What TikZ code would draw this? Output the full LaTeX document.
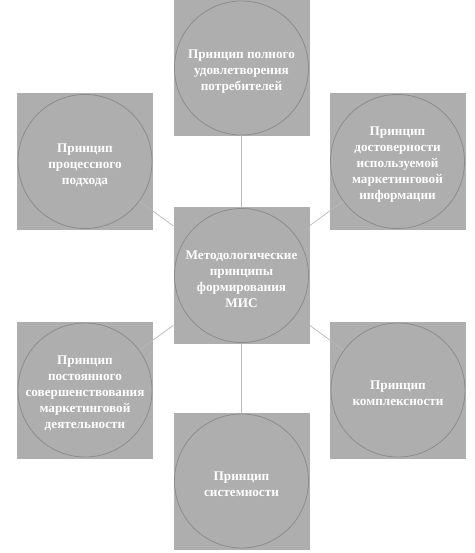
\documentclass[tikz,border=0pt]{standalone}
\usepackage{fontspec}
\setmainfont{Liberation Serif}
\definecolor{boxgray}{RGB}{174,174,174}
\definecolor{ringgray}{RGB}{140,140,140}
\definecolor{linkgray}{RGB}{185,185,185}
\tikzset{
  sqbox/.style={rectangle, fill=boxgray, minimum width=136pt, minimum height=137pt, inner sep=0pt},
  ring/.style={circle, draw=ringgray, line width=0.8pt, minimum size=134pt, inner sep=0pt},
  ringtext/.style={align=center, text=white, inner sep=0pt, yshift=-3.5pt,
    font=\bfseries\fontsize{13.2}{16}\selectfont},
  link/.style={draw=linkgray, line width=0.7pt}
}
\begin{document}
\begin{tikzpicture}[x=1pt,y=-1pt]
\useasboundingbox (0,0) rectangle (474,553);
% boxes
\node[sqbox] (tb) at (241.5,68) {};
\node[sqbox] (lb) at (85,161.5) {};
\node[sqbox] (rb) at (397.5,161.5) {};
\node[sqbox] (cb) at (241.5,275.5) {};
\node[sqbox] (blb) at (85,390) {};
\node[sqbox] (brb) at (398,390) {};
\node[sqbox] (bb) at (241.5,481) {};
% circles
\node[ring] (tc) at (tb) {};
\node[ring] (lc) at (lb) {};
\node[ring] (rc) at (rb) {};
\node[ring] (cc) at (cb) {};
\node[ring] (blc) at (blb) {};
\node[ring] (brc) at (brb) {};
\node[ring] (bc) at (bb) {};
% texts
\node[ringtext] (tt) at (tc) {Принцип полного\\удовлетворения\\потребителей};
\node[ringtext] (lt) at (lc) {Принцип\\процессного\\подхода};
\node[ringtext] (rt) at (rc) {Принцип\\достоверности\\используемой\\маркетинговой\\информации};
\node[ringtext] (ct) at (cc) {Методологические\\принципы\\формирования\\МИС};
\node[ringtext] (blt) at (blc) {Принцип\\постоянного\\совершенствования\\маркетинговой\\деятельности};
\node[ringtext] (brt) at (brc) {Принцип\\комплексности};
\node[ringtext] (bt) at (bc) {Принцип\\системности};
% connectors
\draw[link] (tc) -- (cb);
\draw[link] (lc) -- (cb);
\draw[link] (rc) -- (cb);
\draw[link] (blc) -- (cb);
\draw[link] (brc) -- (cb);
\draw[link] (bc) -- (cb);
\end{tikzpicture}
\end{document}
